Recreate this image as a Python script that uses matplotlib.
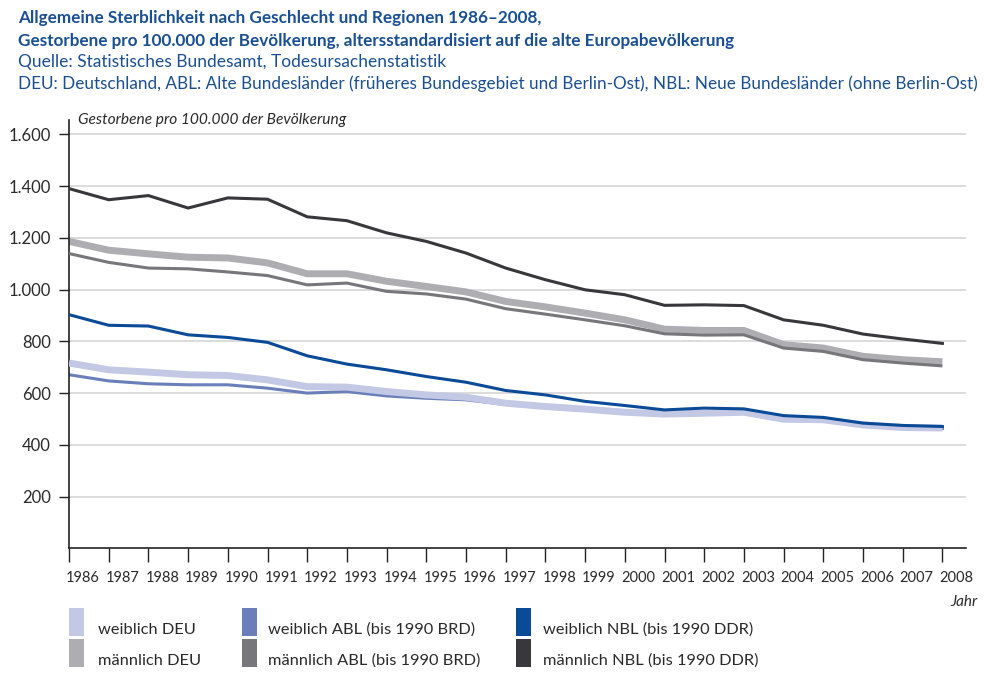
import matplotlib
matplotlib.use("Agg")
import matplotlib.pyplot as plt
import matplotlib.transforms as mtransforms
from matplotlib.patches import Rectangle

plt.rcParams['font.family'] = ['Lato', 'DejaVu Sans']

# data
years = list(range(1986, 2009))

weiblich_deu = [716, 690, 681, 671, 668, 651, 625, 623, 606, 593, 584, 561, 548, 538, 526, 519,
                522, 526, 499, 497, 477, 467, 465]
weiblich_abl = [671, 647, 636, 632, 632, 619, 600, 606, 589, 580, 574, 556, 546, 536, 524, 516,
                520, 524, 497, 494, 475, 466, 463]
weiblich_nbl = [903, 862, 859, 825, 815, 796, 744, 712, 690, 664, 642, 610, 593, 568, 552, 535,
                542, 539, 513, 506, 484, 475, 471]
maennlich_deu = [1186, 1152, 1138, 1125, 1122, 1103, 1061, 1061, 1032, 1012, 991, 954, 933, 909,
                 883, 847, 842, 842, 787, 774, 742, 729, 721]
maennlich_abl = [1139, 1105, 1083, 1080, 1068, 1054, 1018, 1025, 993, 983, 963, 926, 905, 883,
                 860, 829, 824, 825, 774, 761, 729, 716, 705]
maennlich_nbl = [1390, 1347, 1363, 1315, 1354, 1349, 1281, 1266, 1219, 1186, 1141, 1083, 1038, 999,
                 980, 939, 941, 938, 883, 862, 828, 809, 792]

yticks = [200, 400, 600, 800, 1000, 1200, 1400, 1600]
ytick_labels = ['200', '400', '600', '800', '1.000', '1.200', '1.400', '1.600']

labels_row1 = ['weiblich DEU', 'weiblich ABL (bis 1990 BRD)', 'weiblich NBL (bis 1990 DDR)']
labels_row2 = ['männlich DEU', 'männlich ABL (bis 1990 BRD)', 'männlich NBL (bis 1990 DDR)']
colors_row1 = ['#c3c8e4', '#6a7fba', '#0a4a97']
colors_row2 = ['#aeadb2', '#77767b', '#38383c']

title_blue = '#1a4f93'
text_col = '#2a2a2a'

fig = plt.figure(figsize=(9.87, 6.82), dpi=100)
ax = fig.add_axes([69 / 987, 1 - 548.4 / 682, (966 - 69) / 987, (548.4 - 120) / 682])

# lines (thick DEU band, thin ABL / NBL)
ax.plot(years, maennlich_abl, color=colors_row2[1], lw=2.2, solid_capstyle='butt', zorder=3)
ax.plot(years, maennlich_deu, color=colors_row2[0], lw=5.0, solid_capstyle='butt', zorder=2)
ax.plot(years, maennlich_nbl, color=colors_row2[2], lw=2.2, zorder=4)
ax.plot(years, weiblich_abl, color=colors_row1[1], lw=2.2, zorder=2)
ax.plot(years, weiblich_deu, color=colors_row1[0], lw=5.0, solid_capstyle='butt', zorder=3)
ax.plot(years, weiblich_nbl, color=colors_row1[2], lw=2.2, zorder=4)

ax.set_xlim(1986, 1986 + (966 - 69) / 39.7)
ax.set_ylim(0, 1655)

ax.set_yticks(yticks)
ax.set_yticklabels(ytick_labels, fontsize=12, color=text_col)
ax.set_xticks(years)
ax.set_xticklabels([str(y) for y in years], fontsize=10.5, color=text_col, ha='left')
ax.tick_params(axis='x', length=10, width=1, color='#222222', pad=6)
ax.tick_params(axis='y', length=7, width=1, color='#222222', pad=6)
# year labels start just left of their tick
offset = mtransforms.ScaledTranslation(-3 / 100, 0, fig.dpi_scale_trans)
for lab in ax.get_xticklabels():
    lab.set_transform(lab.get_transform() + offset)

ax.grid(axis='y', color='#d6d6d6', lw=1.2)
ax.set_axisbelow(True)
for s in ['top', 'right']:
    ax.spines[s].set_visible(False)
for s in ['left', 'bottom']:
    ax.spines[s].set_color('#222222')
    ax.spines[s].set_linewidth(1.2)

fig.text(78 / 987, 1 - 120 / 682, 'Gestorbene pro 100.000 der Bevölkerung',
         fontsize=11.2, style='italic', color=text_col, va='center', ha='left')
fig.text(978 / 987, 1 - 602 / 682, 'Jahr', fontsize=11, style='italic', color=text_col,
         ha='right', va='center')

# header
fig.text(18 / 987, 1 - 18 / 682, 'Allgemeine Sterblichkeit nach Geschlecht und Regionen 1986–2008,',
         fontsize=12.3, fontweight='bold', color=title_blue, va='center')
fig.text(18 / 987, 1 - 41 / 682,
         'Gestorbene pro 100.000 der Bevölkerung, altersstandardisiert auf die alte Europabevölkerung',
         fontsize=12.3, fontweight='bold', color=title_blue, va='center')
fig.text(18 / 987, 1 - 62 / 682, 'Quelle: Statistisches Bundesamt, Todesursachenstatistik',
         fontsize=12.5, color=title_blue, va='center')
fig.text(18 / 987, 1 - 84 / 682,
         'DEU: Deutschland, ABL: Alte Bundesländer (früheres Bundesgebiet und Berlin-Ost), '
         'NBL: Neue Bundesländer (ohne Berlin-Ost)',
         fontsize=12.3, color=title_blue, va='center')

# legend
patch_x = [69, 242, 516]
text_x = [98, 268, 543]
for labels, colors, top in [(labels_row1, colors_row1, 608), (labels_row2, colors_row2, 639)]:
    for i in range(3):
        fig.add_artist(Rectangle((patch_x[i] / 987, 1 - (top + 28) / 682), 15 / 987, 28 / 682,
                                 transform=fig.transFigure, color=colors[i], lw=0))
        fig.text(text_x[i] / 987, 1 - (top + 22) / 682, labels[i], fontsize=11.8, color=text_col,
                 va='center', ha='left')

fig.savefig('out.png', dpi=100)
